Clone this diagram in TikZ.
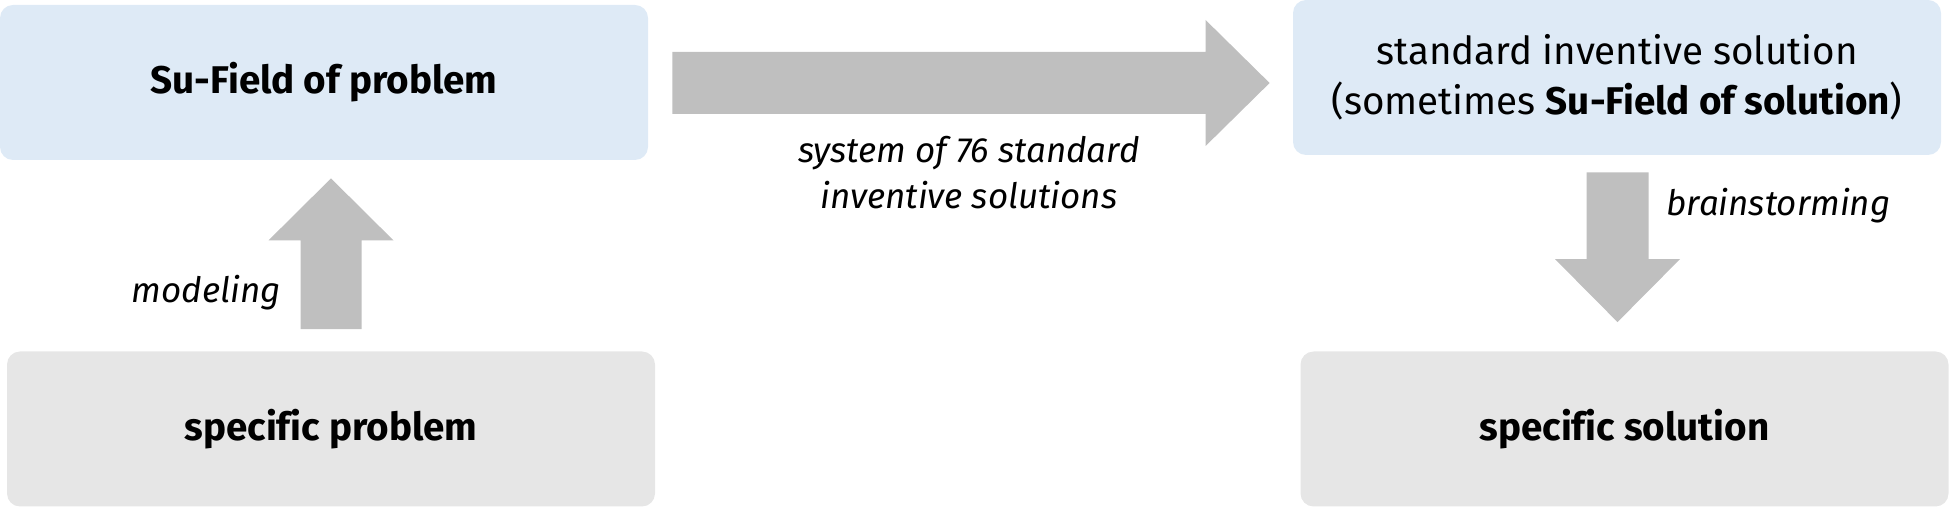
\documentclass[tikz,border=0pt]{standalone}
\usepackage{fontspec}
\setmainfont[Ligatures=NoCommon]{Fira Sans}
\usetikzlibrary{calc}
\definecolor{boxblue}{HTML}{DEEAF6}
\definecolor{boxgray}{HTML}{E6E6E6}
\definecolor{arrowgray}{HTML}{BFBFBF}
\begin{document}
\begin{tikzpicture}[x=0.5pt,y=-0.5pt,
  box/.style={rounded corners=6.5pt, minimum width=324pt, minimum height=77.5pt, inner sep=0pt, align=center, font=\fontsize{19.3}{25}\selectfont},
  bluebox/.style={box, fill=boxblue},
  graybox/.style={box, fill=boxgray},
  blockarrow/.style={fill=arrowgray},
  lbl/.style={font=\fontsize{17.5}{23}\selectfont\itshape, align=center, inner sep=0pt}]
\useasboundingbox (0,0) rectangle (1950,507);
\node[bluebox] (A) at (324,82.5) {\bfseries Su-Field of problem};
\node[graybox] (B) at (331,429) {\bfseries specific problem};
\node[bluebox] (C) at (1617,77.5) {standard inventive solution\\(sometimes \textbf{Su-Field of solution})};
\node[graybox] (D) at (1624.5,429) {\bfseries specific solution};
% up arrow
\coordinate (ub) at ($(B.north)+(0,-22)$);
\coordinate (ut) at ($(A.south)+(7,18)$);
\fill[blockarrow] ($(ub)+(-30.5,0)$) -- ($(ut)+(-30.5,62)$) -- ($(ut)+(-62.5,62)$) -- (ut)
  -- ($(ut)+(62.5,62)$) -- ($(ut)+(30.5,62)$) -- ($(ub)+(30.5,0)$) -- cycle;
% right arrow
\coordinate (rs) at ($(A.east)+(24,0.5)$);
\coordinate (rt) at ($(rs -| C.west)+(-23,0)$);
\fill[blockarrow] ($(rs)+(0,-31)$) -- ($(rt)+(-64,-31)$) -- ($(rt)+(-64,-63)$) -- (rt)
  -- ($(rt)+(-64,63)$) -- ($(rt)+(-64,31)$) -- ($(rs)+(0,31)$) -- cycle;
% down arrow
\coordinate (ds) at ($(C.south)+(0.5,17)$);
\coordinate (dt) at ($(ds |- D.north)+(0,-29)$);
\fill[blockarrow] ($(ds)+(-31,0)$) -- ($(dt)+(-31,-63)$) -- ($(dt)+(-62.5,-63)$) -- (dt)
  -- ($(dt)+(62.5,-63)$) -- ($(dt)+(31,-63)$) -- ($(ds)+(31,0)$) -- cycle;
% labels
\node[lbl, anchor=east] (lm) at (281,293) {modeling};
\node[lbl] (ls) at (969,173) {system of 76 standard\\inventive solutions};
\node[lbl, anchor=west] (lb) at (1666,206) {brainstorming};
\end{tikzpicture}
\end{document}
